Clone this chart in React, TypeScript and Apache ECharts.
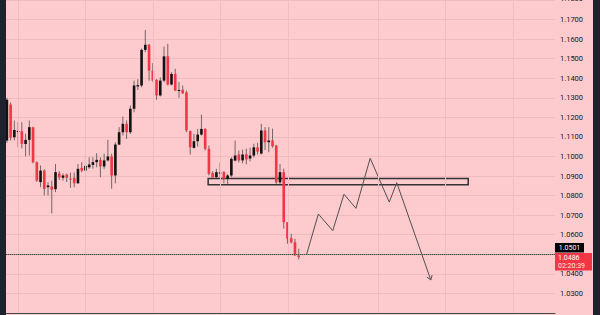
import React, { useEffect, useRef } from 'react';
import * as echarts from 'echarts';

// [open, close, low, high]
const candles: number[][] = [
  [1.1082, 1.1290, 1.1070, 1.1300],
  [1.1266, 1.1097, 1.1082, 1.1276],
  [1.1099, 1.1136, 1.1082, 1.1184],
  [1.1125, 1.1130, 1.1048, 1.1175],
  [1.1129, 1.1065, 1.1041, 1.1175],
  [1.1064, 1.1085, 1.1000, 1.1116],
  [1.1085, 1.1150, 1.1005, 1.1184],
  [1.1150, 1.0971, 1.0965, 1.1152],
  [1.0971, 1.0877, 1.0870, 1.0975],
  [1.0869, 1.0928, 1.0843, 1.0954],
  [1.0928, 1.0835, 1.0801, 1.0935],
  [1.0843, 1.0852, 1.0801, 1.0869],
  [1.0847, 1.0830, 1.0709, 1.0877],
  [1.0833, 1.0920, 1.0818, 1.0962],
  [1.0913, 1.0893, 1.0880, 1.0925],
  [1.0891, 1.0903, 1.0877, 1.0913],
  [1.0908, 1.0891, 1.0869, 1.0913],
  [1.0887, 1.0882, 1.0840, 1.0918],
  [1.0891, 1.0863, 1.0843, 1.0918],
  [1.0863, 1.0937, 1.0860, 1.0962],
  [1.0942, 1.0928, 1.0920, 1.0971],
  [1.0928, 1.0952, 1.0925, 1.1000],
  [1.0945, 1.0959, 1.0937, 1.0996],
  [1.0957, 1.0971, 1.0938, 1.0996],
  [1.0971, 1.0983, 1.0945, 1.1017],
  [1.0983, 1.0949, 1.0894, 1.0996],
  [1.0949, 1.0980, 1.0937, 1.1014],
  [1.0980, 1.1000, 1.0975, 1.1085],
  [1.1000, 1.0903, 1.0835, 1.1014],
  [1.0903, 1.1061, 1.0863, 1.1073],
  [1.1061, 1.1124, 1.1058, 1.1150],
  [1.1124, 1.1167, 1.1107, 1.1204],
  [1.1167, 1.1124, 1.1090, 1.1184],
  [1.1124, 1.1244, 1.1115, 1.1261],
  [1.1244, 1.1363, 1.1226, 1.1388],
  [1.1358, 1.1365, 1.1340, 1.1395],
  [1.1363, 1.1545, 1.1354, 1.1552],
  [1.1545, 1.1571, 1.1533, 1.1647],
  [1.1571, 1.1439, 1.1388, 1.1575],
  [1.1439, 1.1388, 1.1383, 1.1477],
  [1.1392, 1.1312, 1.1290, 1.1395],
  [1.1312, 1.1388, 1.1307, 1.1405],
  [1.1388, 1.1512, 1.1380, 1.1562],
  [1.1512, 1.1368, 1.1363, 1.1576],
  [1.1368, 1.1422, 1.1363, 1.1431],
  [1.1422, 1.1337, 1.1334, 1.1448],
  [1.1337, 1.1340, 1.1300, 1.1380],
  [1.1341, 1.1323, 1.1320, 1.1363],
  [1.1328, 1.1133, 1.1124, 1.1337],
  [1.1130, 1.1047, 1.1010, 1.1133],
  [1.1044, 1.1078, 1.1041, 1.1116],
  [1.1078, 1.1112, 1.1051, 1.1141],
  [1.1112, 1.1141, 1.1107, 1.1214],
  [1.1141, 1.1039, 1.1030, 1.1145],
  [1.1039, 1.0911, 1.0903, 1.1056],
  [1.0915, 1.0894, 1.0893, 1.0925],
  [1.0894, 1.0920, 1.0891, 1.0937],
  [1.0915, 1.0918, 1.0895, 1.0970],
  [1.0920, 1.0886, 1.0863, 1.0925],
  [1.0886, 1.0903, 1.0855, 1.0910],
  [1.0903, 1.0988, 1.0895, 1.0996],
  [1.0979, 1.1005, 1.0975, 1.1082],
  [1.1010, 1.0980, 1.0970, 1.1030],
  [1.0980, 1.1010, 1.0965, 1.1035],
  [1.1012, 1.0985, 1.0960, 1.1040],
  [1.0990, 1.1005, 1.0975, 1.1045],
  [1.1005, 1.1047, 1.0995, 1.1065],
  [1.1047, 1.1025, 1.1010, 1.1070],
  [1.1015, 1.1133, 1.1010, 1.1167],
  [1.1133, 1.1073, 1.1033, 1.1150],
  [1.1073, 1.1082, 1.1022, 1.1150],
  [1.1082, 1.1052, 1.1045, 1.1143],
  [1.1056, 1.0868, 1.0860, 1.1060],
  [1.0868, 1.0920, 1.0860, 1.0962],
  [1.0920, 1.0664, 1.0632, 1.0938],
  [1.0664, 1.0579, 1.0554, 1.0664],
  [1.0582, 1.0562, 1.0555, 1.0605],
  [1.0562, 1.0494, 1.0492, 1.0579],
  [1.0494, 1.0486, 1.0474, 1.0528],
];

const totalSlots = 147; // bars visible in window (incl. future space)
const levelPrice = 1.0501;
const lastPrice = 1.0486;
const countdown = '02:20:39';

// support zone (bar index range, price range)
const zoneStartBar = 53.8;
const zoneEndBar = 123.3;
const zoneTop = 1.0888;
const zoneBottom = 1.0855;

// projected path (bar index, price)
const pathBars = [80.15, 83.25, 87.1, 90.1, 93.3, 97.1, 102.2, 104.2, 113.3];
const pathPrices = [1.0502, 1.0706, 1.0621, 1.0807, 1.0735, 1.0991, 1.0767, 1.0866, 1.0369];

// time grid lines (bar index)
const timeGridBars = [2.97, 20.9, 39.06, 56.97, 75.1, 99.2, 117.1, 135.3];

const yMin = 1.02;
const yMax = 1.18;
const yStep = 0.01;

const BG = '#fdcacd';
const GRID = '#f0bcbf';
const UP = '#121212';
const DOWN = '#f23645';
const DARK = '#1e222d';
const LABEL = '#131722';

export default function App() {
  const ref = useRef<HTMLDivElement>(null);
  useEffect(() => {
    if (!ref.current) return;
    const chart = echarts.init(ref.current, undefined, { renderer: 'svg' });
    const candleData = candles.map((c, i) => [i, c[0], c[1], c[2], c[3]]);
    const pathData = pathBars.map((b, i) => [b, pathPrices[i]]);
    const n = pathBars.length;
    const option: any = {
      animation: false,
      backgroundColor: BG,
      grid: { left: 5, right: 45, top: 0, bottom: 2, containLabel: false },
      xAxis: {
        type: 'value',
        min: -0.5,
        max: totalSlots - 0.5,
        axisLine: { show: true, onZero: false, lineStyle: { color: '#4a4a4a', width: 1 } },
        axisTick: { show: false },
        axisLabel: { show: false },
        splitLine: { show: false },
      },
      yAxis: {
        type: 'value',
        position: 'right',
        min: yMin,
        max: yMax,
        interval: yStep,
        axisLine: { show: false },
        axisTick: { show: false },
        splitLine: { show: true, lineStyle: { color: GRID, width: 1 } },
        axisLabel: {
          margin: 5,
          fontFamily: 'Roboto',
          fontSize: 7.5,
          color: LABEL,
          showMaxLabel: false,
          formatter: (v: number) => {
            if (v < yMin + yStep / 2) return '';
            if (v > yMax - yStep / 2) return '';
            if (Math.abs(v - levelPrice) < yStep / 2) return '';
            return v.toFixed(4);
          },
        },
      },
      series: [
        {
          type: 'line',
          data: [],
          z: 1,
          silent: true,
          markLine: {
            silent: true,
            symbol: 'none',
            label: { show: false },
            lineStyle: { color: GRID, width: 1, type: 'solid' },
            data: timeGridBars.map((b) => ({ xAxis: b })),
          },
        },
        {
          type: 'custom',
          z: 3,
          silent: true,
          data: candleData,
          encode: { x: 0, y: [1, 2, 3, 4] },
          renderItem: (params: any, api: any) => {
            const i = api.value(0);
            const o = api.value(1);
            const c = api.value(2);
            const l = api.value(3);
            const h = api.value(4);
            const pO = api.coord([i, o]);
            const pC = api.coord([i, c]);
            const pL = api.coord([i, l]);
            const pH = api.coord([i, h]);
            const w = api.size([1, 0])[0] * 0.7;
            const up = c >= o;
            const top = Math.min(pO[1], pC[1]);
            const hh = Math.max(Math.abs(pO[1] - pC[1]), 1);
            return {
              type: 'group',
              children: [
                {
                  type: 'line',
                  shape: { x1: pH[0], y1: pH[1], x2: pL[0], y2: pL[1] },
                  style: { stroke: 'rgba(60,60,60,0.7)', lineWidth: 1 },
                },
                {
                  type: 'rect',
                  shape: { x: pO[0] - w / 2, y: top, width: w, height: hh },
                  style: { fill: up ? UP : DOWN },
                },
              ],
            };
          },
        },
        {
          type: 'line',
          z: 4,
          silent: true,
          data: pathData,
          showSymbol: false,
          lineStyle: { color: '#505050', width: 1 },
          markArea: {
            silent: true,
            itemStyle: { color: 'rgba(0,0,0,0)', borderColor: '#333333', borderWidth: 1.5 },
            data: [[{ coord: [zoneStartBar, zoneTop] }, { coord: [zoneEndBar, zoneBottom] }]],
          },
          markLine: {
            silent: true,
            symbol: 'none',
            label: { show: false },
            data: [
              { yAxis: levelPrice, lineStyle: { color: '#4a4a4a', width: 1, type: 'solid' } },
              { yAxis: lastPrice, lineStyle: { color: '#f0606c', width: 1, type: 'dotted' } },
            ],
          },
        },
        {
          type: 'custom',
          z: 4,
          silent: true,
          data: [[pathBars[n - 1], pathPrices[n - 1], pathBars[n - 2], pathPrices[n - 2]]],
          encode: { x: 0, y: 1 },
          renderItem: (params: any, api: any) => {
            const p1 = api.coord([api.value(0), api.value(1)]);
            const p0 = api.coord([api.value(2), api.value(3)]);
            const ang = Math.atan2(p1[1] - p0[1], p1[0] - p0[0]);
            const len = 5;
            const spread = 0.6;
            const a1 = ang + Math.PI - spread;
            const a2 = ang + Math.PI + spread;
            return {
              type: 'polyline',
              shape: {
                points: [
                  [p1[0] + len * Math.cos(a1), p1[1] + len * Math.sin(a1)],
                  [p1[0], p1[1]],
                  [p1[0] + len * Math.cos(a2), p1[1] + len * Math.sin(a2)],
                ],
              },
              style: { stroke: '#505050', lineWidth: 1, fill: 'none' },
            };
          },
        },
      ],
    };
    chart.setOption(option);

    const yLast = chart.convertToPixel({ yAxisIndex: 0 }, lastPrice) as number;
    const yTop = chart.convertToPixel({ yAxisIndex: 0 }, yMax) as number;
    const redTop = Math.round(yLast - 4.5);
    const boxX = 555;
    chart.setOption({
      graphic: [
        { type: 'rect', z: 100, shape: { x: 0, y: 0, width: 6, height: 315 }, style: { fill: DARK } },
        { type: 'rect', z: 100, shape: { x: 593, y: 0, width: 7, height: 315 }, style: { fill: DARK } },
        {
          type: 'text', z: 101, x: 560, y: yTop - 1.5,
          style: { text: yMax.toFixed(4), fill: LABEL, font: '7.5px Roboto', align: 'left', verticalAlign: 'middle' },
        },
        { type: 'rect', z: 100, shape: { x: boxX, y: redTop - 10, width: 29, height: 9.5 }, style: { fill: '#000000' } },
        {
          type: 'text', z: 101, x: boxX + 14.5, y: redTop - 5.3,
          style: { text: levelPrice.toFixed(4), fill: '#ffffff', font: '7px Roboto', align: 'center', verticalAlign: 'middle' },
        },
        { type: 'rect', z: 100, shape: { x: boxX, y: redTop, width: 37, height: 17.5 }, style: { fill: DOWN } },
        {
          type: 'text', z: 101, x: boxX + 3, y: redTop + 4.8,
          style: { text: lastPrice.toFixed(4), fill: '#ffffff', font: '7px Roboto', align: 'left', verticalAlign: 'middle' },
        },
        {
          type: 'text', z: 101, x: boxX + 3, y: redTop + 13.2,
          style: { text: countdown, fill: '#ffe4e6', font: '7px Roboto', align: 'left', verticalAlign: 'middle' },
        },
      ],
    });

    return () => chart.dispose();
  }, []);
  return (
    <div
      ref={ref}
      style={{ position: 'absolute', left: 0, top: 0, width: 600, height: 315 }}
    />
  );
}
